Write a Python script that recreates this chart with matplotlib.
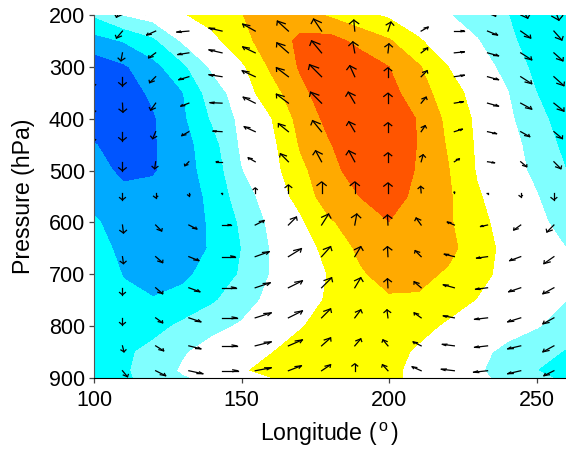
import numpy as np
import matplotlib
matplotlib.use("Agg")
import matplotlib.pyplot as plt

plt.rcParams["font.family"] = ["Liberation Sans", "DejaVu Sans"]
plt.rcParams["mathtext.fontset"] = "custom"
plt.rcParams["mathtext.rm"] = "Liberation Sans"

# Shaded field
field_lon = [100, 110, 120, 130, 140, 150, 160, 170, 180, 190, 200, 210, 220, 230, 240, 250, 260]
field_p = [200, 250, 300, 350, 400, 450, 500, 550, 600, 650, 700, 750, 800, 850, 885, 900]
field = [
    [-0.9, 0.0, 0.45, 0.9, 1.45, 1.97, 2.4, 2.5, 1.85, 1.3, 0.82, 0.45, 0.05, -0.45, -0.98, -1.4, -1.6],
    [-2.4, -1.95, -1.25, 0.1, 0.67, 1.7, 2.45, 3.2, 3.4, 2.7, 2.1, 1.1, 0.45, 0.05, -0.8, -1.4, -1.7],
    [-3.6, -3.15, -2.35, -1.25, 0.15, 0.8, 2.15, 3.1, 3.5, 3.6, 3.0, 2.1, 1.0, 0.45, -0.3, -1.3, -1.65],
    [-3.7, -3.4, -2.85, -2.05, -0.5, 0.5, 1.55, 2.75, 3.55, 3.8, 3.3, 2.5, 1.4, 0.65, 0.05, -1.0, -1.7],
    [-3.75, -3.5, -3.1, -2.2, -0.9, 0.25, 0.95, 2.35, 3.3, 3.85, 3.9, 2.9, 1.75, 0.8, 0.2, -0.65, -1.55],
    [-2.95, -3.45, -3.1, -2.4, -1.4, 0.15, 0.7, 2.1, 2.95, 3.6, 3.7, 2.95, 1.9, 0.85, 0.3, -0.3, -1.3],
    [-2.65, -3.2, -3.12, -2.35, -1.65, -0.05, 0.6, 1.75, 2.7, 3.45, 3.55, 2.9, 2.05, 0.9, 0.4, -0.2, -1.0],
    [-2.25, -2.75, -2.6, -2.35, -1.85, -0.45, 0.45, 1.3, 2.65, 3.0, 3.4, 2.75, 2.15, 1.1, 0.45, 0.05, -0.7],
    [-1.9, -2.35, -2.35, -2.2, -1.95, -0.85, 0.2, 0.85, 1.85, 2.6, 2.98, 2.5, 2.15, 1.25, 0.65, 0.3, -0.45],
    [-1.6, -2.25, -2.35, -2.25, -1.95, -1.0, 0.05, 0.65, 1.25, 2.2, 2.7, 2.6, 2.3, 1.4, 0.75, 0.35, 0.0],
    [-1.3, -2.05, -2.35, -2.2, -1.65, -0.9, 0.05, 0.55, 1.05, 1.85, 2.4, 2.3, 1.85, 1.3, 0.7, 0.35, 0.15],
    [-1.05, -1.75, -1.95, -1.7, -1.15, -0.4, 0.25, 0.7, 1.1, 1.55, 1.85, 1.85, 1.4, 0.95, 0.6, 0.3, 0.0],
    [-1.25, -1.5, -1.35, -0.8, -0.25, 0.1, 0.65, 0.95, 1.3, 1.55, 1.55, 1.3, 0.85, 0.55, 0.3, 0.05, -0.35],
    [-1.35, -1.2, -0.7, -0.1, 0.35, 0.7, 0.97, 1.3, 1.5, 1.55, 1.35, 0.85, 0.5, 0.2, -0.2, -0.55, -1.1],
    [-1.4, -1.15, -0.55, 0.1, 0.5, 0.9, 1.25, 1.5, 1.7, 1.6, 1.2, 0.75, 0.4, 0.1, -0.35, -1.0, -1.4],
    [-1.45, -1.15, -0.7, -0.1, 0.2, 0.5, 0.97, 1.3, 1.5, 1.45, 1.2, 0.75, 0.4, 0.15, -0.2, -0.75, -1.2],
]
levels = [-4, -3, -2, -1, 0, 1, 2, 3, 4]
band_colors = ["#0055ff", "#00aaff", "#00ffff", "#80ffff", "#ffffff", "#ffff00", "#ffaa00", "#ff5500"]

# Wind arrows
arrow_lon = [98.4, 109.65, 120.9, 132.15, 143.4, 154.65, 165.9, 177.15, 188.4, 199.65, 210.9, 222.15, 233.4, 244.65, 255.9]
arrow_p = [185, 231, 273, 319, 370, 425, 483, 543, 605, 666, 726, 784, 838, 886]
arrow_u = [
    [0, -6, -10, -13, -13, -12, -11, -8, -1, 3, 7, 10, 8, 7, 5],
    [0, -6, -9, -12, -13, -12.5, -11, -8, -1, 3, 7, 10, 10, 10, 8],
    [1, -1.5, -7, -11, -13, -12.5, -11.5, -10, -2, 1, 6.5, 10, 11, 11, 9],
    [2, 0, -6, -10, -13, -13, -12, -12, -5, 0, 6, 10, 11, 11, 10],
    [2, 0.5, -5, -8, -12, -12, -12, -11, -6.5, 0, 5, 9, 11, 11, 10],
    [2, 0, -3, -7, -9, -11, -10, -9, -6, 0, 4, 8, 9, 9, 8.5],
    [1, 0, -1, -4, -6, -7, -8, -6, -6, 0, 2, 5, 7, 6, 7],
    [0, 0, 0, 0, 0, 0, 0, 0, 0, 0, -0.5, 0, 0, 0, 0],
    [0, 1, 6, 8, 9, 9, 8, 7, 2, -0.5, -5, -7, -7, -7, -7],
    [0, 1, 7, 10, 13, 14, 13, 9, 6, -0.5, -6, -10, -11, -11, -10],
    [0, 0, 7, 11, 14, 15, 14, 10, 6, -0.5, -7, -11, -12, -12, -11],
    [0, 0, 7, 12, 15, 16, 14, 9, 6, -1, -7, -11, -13, -13, -11],
    [0, 1.5, 8, 12, 15, 16, 14, 9, 6, -5, -8, -12, -13, -13, -11],
    [0, 5, 10, 14, 16, 16, 13, 9, 0, -5.5, -9, -13, -14, -13, -10],
]
arrow_w = [
    [-10, -10, -7, -4, 1, 6, 9, 11, 11, 9, 4, 0, -9, -11, -13],
    [-8, -7, -4, -1, 3, 7, 10, 12, 11, 9, 4, 0, -4, -7, -9],
    [-9, -8, -5, -1.7, 3, 6, 10, 12, 11, 9, 5, 1, -3, -7, -8],
    [-12, -9, -6, -3, 2, 6, 9, 12, 11, 9, 6, 1.5, -3, -7, -9],
    [-12, -9, -7, -3, 0.5, 6, 9, 11, 11, 10, 6, 1.5, -3, -6, -8],
    [-12, -9, -7, -4, 0.5, 5, 8, 11, 10, 9, 6, 2.5, -2, -5, -7],
    [-10, -9, -7, -4, 0, 4, 8, 11, 11, 9, 7, 3, -1, -5, -7],
    [-7, -7, -5, -3, -1, 5, 8, 11, 11, 10, 6.5, 1, -1, -4, -7],
    [-6, -8, -6, -4, 0, 4.5, 8, 11, 11, 10, 7, 3, -1.5, -5, -7],
    [-6, -7, -6, -4, 0, 5, 8, 10, 10, 10, 6, 2.5, -1.5, -4, -7],
    [-6, -7, -6, -4, 0, 5, 7, 10, 10, 9, 6, 3, -1.5, -4, -6],
    [-6, -7, -5, -4, 0, 5, 7, 9, 8, 8, 5, 2, -1.5, -4, -6],
    [-6, -6, -5, -3, 0, 4, 6, 8, 7, 6, 4, 1.5, -1.5, -3, -6],
    [-6, -6, -5, -3, 0, 3, 5, 6, 7, 6, 4, 1.5, -1.5, -3, -5],
]

fig = plt.figure(figsize=(5.66, 4.51), dpi=100)
ax = fig.add_axes([94 / 566, 73 / 451, 472 / 566, 363 / 451])

ax.contourf(field_lon, field_p, field, levels=levels, colors=band_colors)

# Heads are squashed along x/y like a quiver drawn in data units
px_lon = 472 / 160
px_p = 363 / 700
for i, p in enumerate(arrow_p):
    for j, lon in enumerate(arrow_lon):
        u = arrow_u[i][j]
        w = arrow_w[i][j]
        tip_x = lon + u / px_lon
        tip_y = p - w / px_p
        ax.plot([lon, tip_x], [p, tip_y], color="black", lw=0.9)
        back_x = tip_x - 0.33 * u / px_lon
        back_y = tip_y + 0.33 * w / px_p
        wing_x = 0.42 * w / px_lon
        wing_y = 0.06 * u / px_p
        ax.plot([back_x - wing_x, tip_x, back_x + wing_x],
                [back_y - wing_y, tip_y, back_y + wing_y], color="black", lw=0.9)

ax.set_xlim(100, 260)
ax.set_ylim(900, 200)
ax.set_xticks([100, 150, 200, 250])
ax.set_yticks([200, 300, 400, 500, 600, 700, 800, 900])
ax.tick_params(labelsize=15.5, length=3.5, width=0.9, color="#444444")
ax.tick_params(axis="x", pad=5)
ax.tick_params(axis="y", pad=3)
ax.spines["top"].set_visible(False)
ax.spines["right"].set_visible(False)
ax.spines["left"].set_color("#555555")
ax.set_xlabel(r"Longitude ($^{\,\mathrm{o}\,}$)", fontsize=16.7, labelpad=7)
ax.set_ylabel("Pressure (hPa)", fontsize=16.7, labelpad=10)

fig.savefig("out.png", dpi=100)
